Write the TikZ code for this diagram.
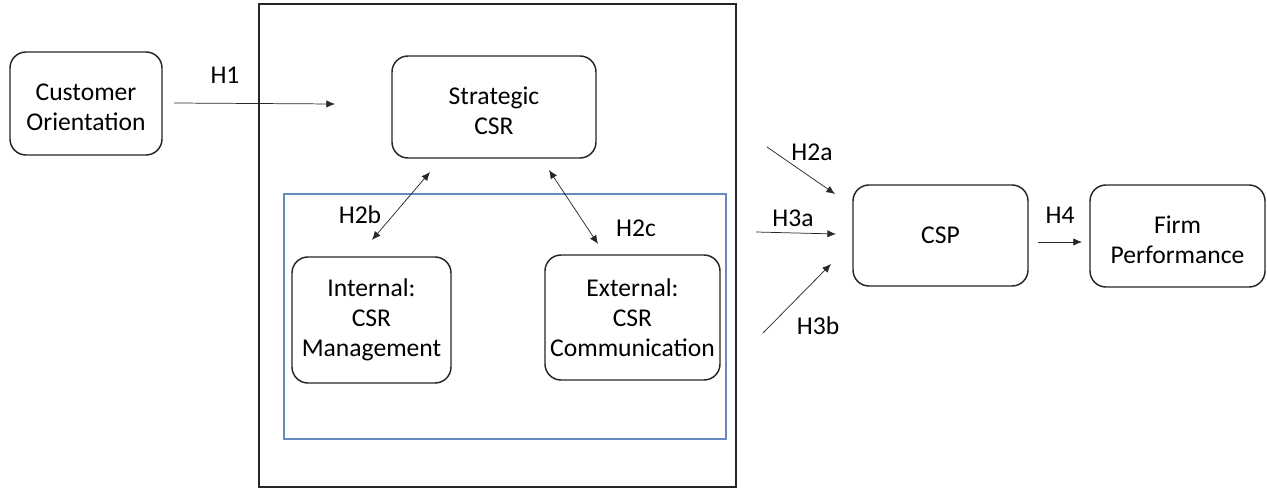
\documentclass[tikz,border=0pt]{standalone}
\usepackage{fontspec}
\setmainfont{Carlito}
\usetikzlibrary{arrows.meta}
\definecolor{frameblue}{RGB}{100,140,190}
\definecolor{arrowgray}{RGB}{40,40,40}
\tikzset{
  box/.style={draw=black!85, line width=1.1pt, rounded corners=12pt, inner sep=0pt},
  boxtext/.style={align=center, inner sep=0pt, font=\fontsize{19.2}{22.5}\selectfont},
  link/.style={draw=arrowgray, line width=0.55pt, -{Latex[length=6.5pt,width=5.5pt]}},
  biglink/.style={draw=arrowgray, line width=0.55pt,
    {Latex[length=6.5pt,width=5.5pt]}-{Latex[length=6.5pt,width=5.5pt]}},
  hlabel/.style={font=\fontsize{19.2}{22.5}\selectfont, inner sep=0pt},
}
\begin{document}
\begin{tikzpicture}[x=0.75pt, y=-0.75pt]
  \useasboundingbox (0,0) rectangle (1267,496);
  % outer frame and inner (blue) frame
  \draw[line width=1.1pt, draw=black!85] (259,4) rectangle (736,487);
  \draw[line width=1.0pt, draw=frameblue] (284,194) rectangle (726,439);

  % construct boxes
  \node[box, minimum width=114pt, minimum height=77.25pt] (co) at (86,103.5) {};
  \node[box, minimum width=153pt, minimum height=76.5pt] (scsr) at (494,107) {};
  \node[box, minimum width=119.25pt, minimum height=94.5pt] (int) at (371.5,320) {};
  \node[box, minimum width=131.25pt, minimum height=93.75pt] (ext) at (632.5,317.5) {};
  \node[box, minimum width=131.25pt, minimum height=75.75pt] (csp) at (940.5,235.5) {};
  \node[box, minimum width=131.25pt, minimum height=76.5pt] (fp) at (1177.5,236) {};

  % box texts
  \node[boxtext] (cot) at ([yshift=-3pt]co.center) {Customer\\Orientation};
  \node[boxtext] (scsrt) at ([yshift=-2.5pt]scsr.center) {Strategic\\CSR};
  \node[boxtext] (intt) at ([yshift=0pt]int.center) {Internal:\\CSR\\Management};
  \node[boxtext] (extt) at ([yshift=0pt]ext.center) {External:\\CSR\\Communication};
  \node[boxtext] (cspt) at (csp.center) {CSP};
  \node[boxtext] (fpt) at ([yshift=-2.5pt]fp.center) {Firm\\Performance};

  % arrow end points
  \coordinate (h1s) at (174,103);
  \coordinate (h1e) at (335,104);
  \coordinate (h2bs) at (430,172);
  \coordinate (h2be) at (372,240);
  \coordinate (h2cs) at (549,170);
  \coordinate (h2ce) at (598,244);
  \coordinate (h2as) at (767,147);
  \coordinate (h2ae) at (835,194);
  \coordinate (h3as) at (756,232);
  \coordinate (h3ae) at (836,234);
  \coordinate (h3bs) at (763,333);
  \coordinate (h3be) at (831,264);
  \coordinate (h4s) at (1038,242);
  \coordinate (h4e) at (1082,242);

  % hypothesis arrows
  \draw[link] (h1s) -- (h1e);
  \draw[biglink] (h2bs) -- (h2be);
  \draw[biglink] (h2cs) -- (h2ce);
  \draw[link] (h2as) -- (h2ae);
  \draw[link] (h3as) -- (h3ae);
  \draw[link] (h3bs) -- (h3be);
  \draw[link] (h4s) -- (h4e);

  % hypothesis labels
  \node[hlabel] (l1) at (225,75) {H1};
  \node[hlabel] (l2b) at (360,215) {H2b};
  \node[hlabel] (l2c) at (636,228) {H2c};
  \node[hlabel] (l2a) at (812,152) {H2a};
  \node[hlabel] (l3a) at (793,218) {H3a};
  \node[hlabel] (l3b) at (818,326) {H3b};
  \node[hlabel] (l4) at (1060,215) {H4};
\end{tikzpicture}
\end{document}
